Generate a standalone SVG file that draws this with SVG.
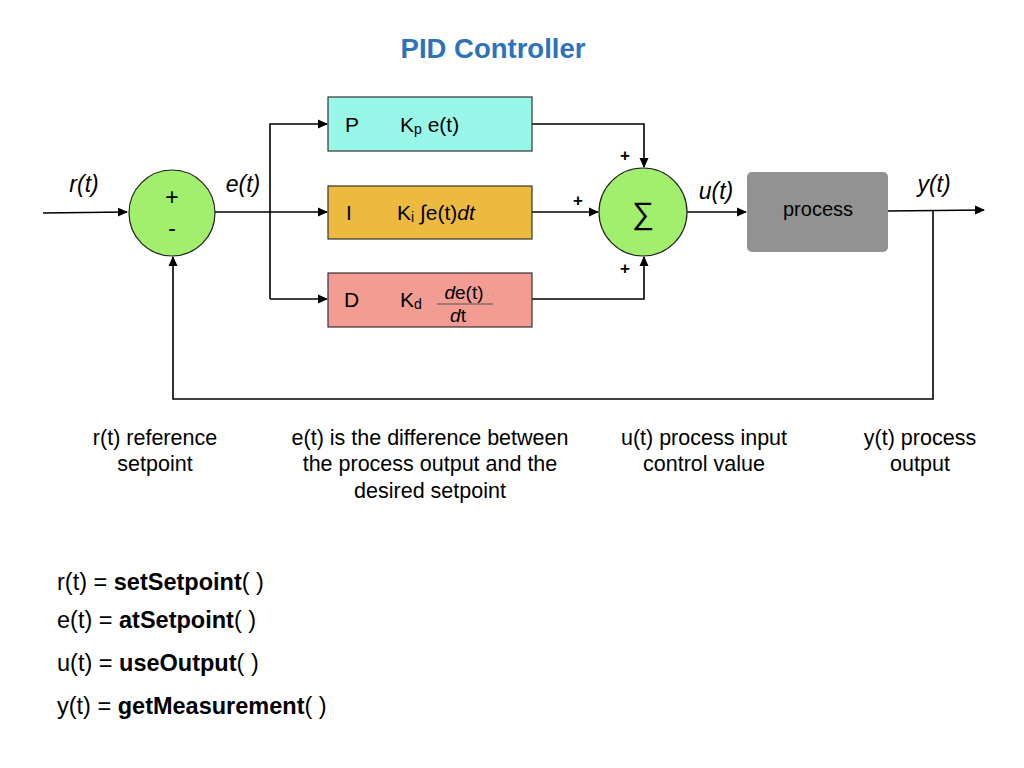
<svg xmlns="http://www.w3.org/2000/svg" width="1024" height="768" viewBox="0 0 1024 768">
<style>
text{font-family:"Liberation Sans",Arial,sans-serif;fill:#000}
.lbl{font-size:23px;font-style:italic}
.bt{font-size:21px}
.note{font-size:21.5px;text-anchor:middle}
.code{font-size:23.5px}
.line{stroke:#000;stroke-width:1.6;fill:none}
.sum{fill:#a2ef6e;stroke:#222;stroke-width:1.2}
.box{stroke:#333;stroke-width:1.2}
</style>
<defs>
<marker id="arr" markerWidth="10" markerHeight="10" refX="9" refY="5" orient="auto" markerUnits="userSpaceOnUse">
<path d="M0,0.5 L10,5 L0,9.5 Z" fill="#000"/>
</marker>
</defs>
<rect width="1024" height="768" fill="#fff"/>
<text x="493" y="58" text-anchor="middle" style="font-size:27.5px;font-weight:bold;fill:#2e73b8">PID Controller</text>

<g id="connectors">
<path class="line" d="M43,213 L127,212" marker-end="url(#arr)"/>
<path class="line" d="M215,212 L327,212" marker-end="url(#arr)"/>
<path class="line" d="M270,299 L270,124 L327,124" marker-end="url(#arr)"/>
<path class="line" d="M270,299 L327,299" marker-end="url(#arr)"/>
<path class="line" d="M532,124 L644,124 L644,167" marker-end="url(#arr)"/>
<path class="line" d="M532,212 L598,212" marker-end="url(#arr)"/>
<path class="line" d="M532,299 L644,299 L644,257" marker-end="url(#arr)"/>
<path class="line" d="M687,212 L746,212" marker-end="url(#arr)"/>
<path class="line" d="M888,211 L984,210" marker-end="url(#arr)"/>
<path class="line" d="M933,210 L933,399 L173,399 L173,257" marker-end="url(#arr)"/>
</g>

<g id="sum1">
<circle class="sum" cx="172" cy="213" r="43"/>
<text x="172" y="205" text-anchor="middle" style="font-size:23px">+</text>
<text x="172" y="236" text-anchor="middle" style="font-size:23px">-</text>
</g>

<g id="p-box">
<rect class="box" x="328" y="97" width="204" height="54" fill="#98f7e9"/>
<text class="bt" x="345" y="132">P</text>
<text class="bt" x="400" y="132">K<tspan style="font-size:14px" dy="2">p</tspan><tspan dy="-2"> e(t)</tspan></text>
</g>

<g id="i-box">
<rect class="box" x="328" y="186" width="204" height="53" fill="#edba40"/>
<text class="bt" x="346" y="220">I</text>
<text class="bt" x="397" y="220">K<tspan style="font-size:14px" dy="2">i</tspan><tspan dy="-2"> ∫e(t)</tspan><tspan font-style="italic">dt</tspan></text>
</g>

<g id="d-box">
<rect class="box" x="328" y="273" width="204" height="54" fill="#f29c92"/>
<text class="bt" x="344" y="307">D</text>
<text class="bt" x="400" y="307">K<tspan style="font-size:14px" dy="2">d</tspan></text>
<text x="464" y="299" text-anchor="middle" style="font-size:19px"><tspan font-style="italic">d</tspan>e(t)</text>
<line x1="437" y1="304" x2="493" y2="304" stroke="#555" stroke-width="1"/>
<text x="458" y="322" text-anchor="middle" style="font-size:19px"><tspan font-style="italic">d</tspan>t</text>
</g>

<g id="sum2">
<circle class="sum" cx="643" cy="212" r="44"/>
<text x="643" y="224" text-anchor="middle" style="font-size:31px">∑</text>
</g>

<g id="process">
<rect x="747" y="172" width="141" height="80" rx="5" fill="#929292"/>
<text x="818" y="216" text-anchor="middle" style="font-size:20px">process</text>
</g>

<g id="labels">
<text class="lbl" x="84" y="192" text-anchor="middle">r(t)</text>
<text class="lbl" x="243" y="192" text-anchor="middle">e(t)</text>
<text class="lbl" x="716" y="199" text-anchor="middle">u(t)</text>
<text class="lbl" x="934" y="192" text-anchor="middle">y(t)</text>
<text x="625" y="161" text-anchor="middle" style="font-size:17px;font-weight:bold">+</text>
<text x="578" y="206" text-anchor="middle" style="font-size:17px;font-weight:bold">+</text>
<text x="625" y="274" text-anchor="middle" style="font-size:17px;font-weight:bold">+</text>
</g>

<g id="notes">
<text class="note" x="155" y="445">r(t) reference</text>
<text class="note" x="155" y="471">setpoint</text>
<text class="note" x="430" y="445">e(t) is the difference between</text>
<text class="note" x="430" y="471">the process output and the</text>
<text class="note" x="430" y="498">desired setpoint</text>
<text class="note" x="704" y="445">u(t) process input</text>
<text class="note" x="704" y="471">control value</text>
<text class="note" x="920" y="445">y(t) process</text>
<text class="note" x="920" y="471">output</text>
</g>

<g id="code">
<text class="code" x="57" y="590">r(t) = <tspan font-weight="bold">setSetpoint</tspan>( )</text>
<text class="code" x="57" y="628">e(t) = <tspan font-weight="bold">atSetpoint</tspan>( )</text>
<text class="code" x="57" y="671">u(t) = <tspan font-weight="bold">useOutput</tspan>( )</text>
<text class="code" x="57" y="714">y(t) = <tspan font-weight="bold">getMeasurement</tspan>( )</text>
</g>
</svg>
